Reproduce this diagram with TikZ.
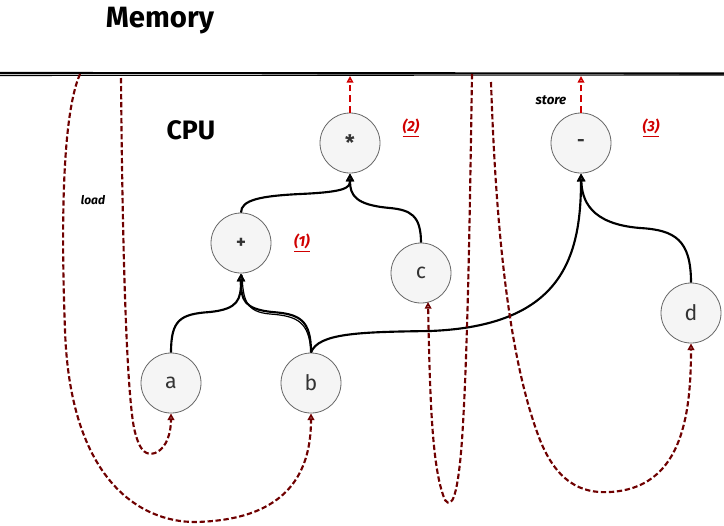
\documentclass[tikz,border=0pt]{standalone}
\usepackage{fontspec}
\setmainfont{Fira Sans}
\usetikzlibrary{arrows.meta}
\definecolor{nodefill}{HTML}{F5F5F5}
\definecolor{nodeline}{HTML}{666666}
\definecolor{loadred}{HTML}{6F0000}
\definecolor{storered}{HTML}{D00000}
\tikzset{
  opnode/.style={circle,draw=nodeline,fill=nodefill,line width=0.6pt,minimum size=45pt,inner sep=0pt,text=black!80,font=\fontsize{16}{19}\selectfont},
  edge/.style={draw=black,line width=1.6pt,-{Triangle[open,length=6pt,width=6pt]}},
  loadarrow/.style={draw=loadred,line width=1.6pt,dash pattern=on 4pt off 2pt,-{Triangle[open,length=5pt,width=5pt]}},
  storearrow/.style={draw=storered,line width=1.4pt,dash pattern=on 5pt off 3pt,-{Triangle[open,length=5pt,width=5pt]}},
  steplabel/.style={text=storered,font=\fontsize{11}{13}\selectfont\itshape\bfseries},
  smalllabel/.style={font=\fontsize{9}{11}\selectfont\itshape\bfseries},
  title/.style={font=\fontsize{22}{26}\selectfont\bfseries}
}
\newcommand{\redul}[1]{\underline{#1}}
\begin{document}
\begin{tikzpicture}[x=0.75pt,y=-0.75pt]
\useasboundingbox (0,0) rectangle (724,525);
% memory line
\draw[line width=1.6pt] (0,73) -- (724,73.5);
\draw[line width=0.8pt] (0,75.5) -- (724,75);
\node[title] (mem) at (160,21) {Memory};
\node[title,font=\fontsize{20}{24}\selectfont\bfseries] (cpu) at (191,130) {CPU};
% memory anchor coordinates
\coordinate (m1) at (80,74);
\coordinate (m2) at (121,78);
\coordinate (m3) at (472,74);
\coordinate (m4) at (491,82);
\coordinate (ms) at (350,76);
\coordinate (mm) at (581,76);
% nodes
\node[opnode,font=\fontsize{16}{18}\selectfont\bfseries] (star) at (350,143) {*};
\node[opnode,font=\fontsize{14}{16}\selectfont\bfseries] (minus) at (581,143) {-};
\node[opnode,font=\fontsize{14}{16}\selectfont\bfseries] (plus) at (241,243) {+};
\node[opnode] (c) at (421,273) {c};
\node[opnode] (a) at (171,383) {a};
\node[opnode] (b) at (311,383) {b};
\node[opnode] (d) at (691,313) {d};
% labels
\node[steplabel] (l1) at (302,243) {\redul{(1)}};
\node[steplabel] (l2) at (411,128) {\redul{(2)}};
\node[steplabel] (l3) at (651,128) {\redul{(3)}};
\node[smalllabel] (load) at (93,200) {load};
\node[smalllabel,font=\fontsize{10}{12}\selectfont\itshape\bfseries] (store) at (551,100) {store};
% tree edges
\draw[edge] (a.north) .. controls (171,320) and (180,314) .. (210,312) .. controls (238,309) and (241,300) .. (plus.south);
\draw[edge] (b.north) .. controls (311,320) and (300,314) .. (272,312) .. controls (244,309) and (241,300) .. (plus.south);
\draw[line width=0.9pt] (311,352) .. controls (309,322) and (298,316) .. (270,314) .. controls (246,312) and (243,300) .. (242,275);
\draw[edge] (plus.north) .. controls (241,200) and (260,196) .. (300,194) .. controls (345,192) and (350,188) .. (star.south);
\draw[edge] (c.north) .. controls (421,215) and (410,210) .. (390,208) .. controls (355,205) and (350,195) .. (star.south);
\draw[edge] (b.north) .. controls (318,333) and (360,332) .. (430,331) .. controls (560,326) and (581,260) .. (minus.south);
\draw[edge] (d.north) .. controls (691,240) and (675,230) .. (640,228) .. controls (590,224) and (582,200) .. (minus.south);
% store arrows
\draw[storearrow] (star.north) -- (ms);
\draw[storearrow] (minus.north) -- (mm);
% load arrows
\draw[loadarrow] (m1) .. controls (60,120) and (62,250) .. (65,330) .. controls (70,480) and (140,522) .. (195,522) .. controls (290,520) and (311,470) .. (b.south);
\draw[loadarrow] (m2) .. controls (122,200) and (125,380) .. (134,428) .. controls (140,455) and (148,455) .. (155,453) .. controls (168,448) and (171,430) .. (a.south);
\draw[loadarrow] (m3) .. controls (470,200) and (468,350) .. (462,440) .. controls (458,495) and (452,510) .. (445,500) .. controls (432,470) and (430,400) .. (428,302);
\draw[loadarrow] (m4) .. controls (495,200) and (505,350) .. (540,440) .. controls (560,490) and (590,493) .. (610,492) .. controls (680,488) and (691,420) .. (d.south);
\end{tikzpicture}
\end{document}
